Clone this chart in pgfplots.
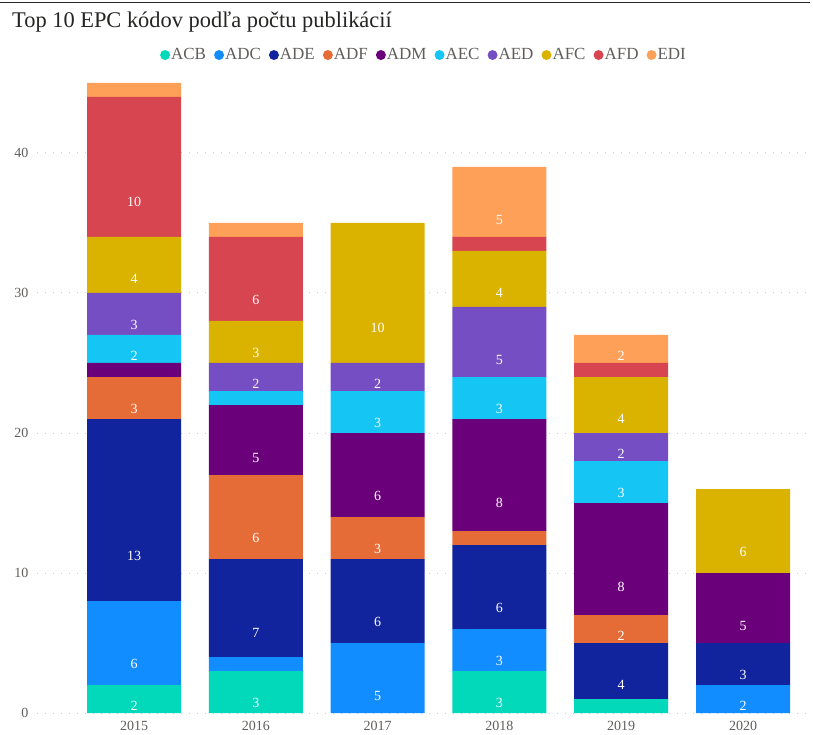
\documentclass[border=0pt]{standalone}
\usepackage{pgfplots}
\usepackage{pgfplotstable}
\pgfplotsset{compat=1.18}
\usepackage{fontspec}
\setmainfont{Liberation Serif}
\definecolor{cACB}{HTML}{01D9BA}
\definecolor{cADC}{HTML}{118DFF}
\definecolor{cADE}{HTML}{12239E}
\definecolor{cADF}{HTML}{E66C37}
\definecolor{cADM}{HTML}{6B007B}
\definecolor{cAEC}{HTML}{15C6F4}
\definecolor{cAED}{HTML}{744EC2}
\definecolor{cAFC}{HTML}{D9B300}
\definecolor{cAFD}{HTML}{D64550}
\definecolor{cEDI}{HTML}{FFA058}
\definecolor{txt}{HTML}{605E5C}
\definecolor{titlec}{HTML}{252423}

\pgfplotstableread{
x y
0 2
1 3
2 0
3 3
4 1
5 0
}\tACB
\pgfplotstableread{
x y
0 6
1 1
2 5
3 3
4 0
5 2
}\tADC
\pgfplotstableread{
x y
0 13
1 7
2 6
3 6
4 4
5 3
}\tADE
\pgfplotstableread{
x y
0 3
1 6
2 3
3 1
4 2
5 0
}\tADF
\pgfplotstableread{
x y
0 1
1 5
2 6
3 8
4 8
5 5
}\tADM
\pgfplotstableread{
x y
0 2
1 1
2 3
3 3
4 3
5 0
}\tAEC
\pgfplotstableread{
x y
0 3
1 2
2 2
3 5
4 2
5 0
}\tAED
\pgfplotstableread{
x y
0 4
1 3
2 10
3 4
4 4
5 6
}\tAFC
\pgfplotstableread{
x y
0 10
1 6
2 0
3 1
4 1
5 0
}\tAFD
\pgfplotstableread{
x y
0 1
1 1
2 0
3 5
4 2
5 0
}\tEDI

\begin{document}
\begin{tikzpicture}
\path[use as bounding box] (0,0) rectangle (813pt,734pt);
\draw[line width=1.5pt, black!85] (0,731.5pt) -- (810pt,731.5pt);
\node[anchor=base west, inner sep=0pt, text=titlec, font=\fontsize{22.4}{26}\selectfont] at (12pt,706pt) {Top 10 EPC kódov podľa počtu publikácií};
\begin{axis}[
  at={(37pt,21pt)}, anchor=south west,
  scale only axis, width=773pt, height=644pt,
  ybar stacked, bar width=94pt,
  xmin=-0.797, xmax=5.55, ymin=0, ymax=46,
  xtick={0,1,2,3,4,5},
  xticklabels={2015,2016,2017,2018,2019,2020},
  ytick={0,10,20,30,40},
  axis line style={draw=none},
  major tick length=0pt,
  ymajorgrids,
  grid style={line width=1pt, dash pattern=on 1.2pt off 6.8pt, black!20},
  /pgf/number format/assume math mode=true,
  tick label style={font=\fontsize{14}{16}\selectfont, text=txt},
  yticklabel style={xshift=-5pt},
  xticklabel style={yshift=-5pt},
  every axis plot/.append style={draw=none},
  visualization depends on={\thisrow{y} \as \rawv},
  nodes near coords={\pgfmathtruncatemacro\vv{\rawv}\ifnum\vv>1 \vv\fi},
  every node near coord/.append style={anchor=center, text=white,
    font=\fontsize{14}{16}\selectfont, yshift=-\rawv*3.5pt},
  legend columns=10,
  legend style={at={(0.5,1.0217)}, anchor=center, draw=none, fill=none,
    font=\fontsize{17}{19}\selectfont, text=txt,
    /tikz/every odd column/.append style={column sep=0pt},
    /tikz/every even column/.append style={column sep=7pt},
    nodes={inner sep=1pt}},
  legend image code/.code={\fill[#1] (5pt,0pt) circle (5pt);},
]
\addplot[fill=cACB] table[x=x,y=y]{\tACB};
\addplot[fill=cADC] table[x=x,y=y]{\tADC};
\addplot[fill=cADE] table[x=x,y=y]{\tADE};
\addplot[fill=cADF] table[x=x,y=y]{\tADF};
\addplot[fill=cADM] table[x=x,y=y]{\tADM};
\addplot[fill=cAEC] table[x=x,y=y]{\tAEC};
\addplot[fill=cAED] table[x=x,y=y]{\tAED};
\addplot[fill=cAFC] table[x=x,y=y]{\tAFC};
\addplot[fill=cAFD] table[x=x,y=y]{\tAFD};
\addplot[fill=cEDI] table[x=x,y=y]{\tEDI};
\legend{ACB,ADC,ADE,ADF,ADM,AEC,AED,AFC,AFD,EDI}
\end{axis}
\end{tikzpicture}
\end{document}
